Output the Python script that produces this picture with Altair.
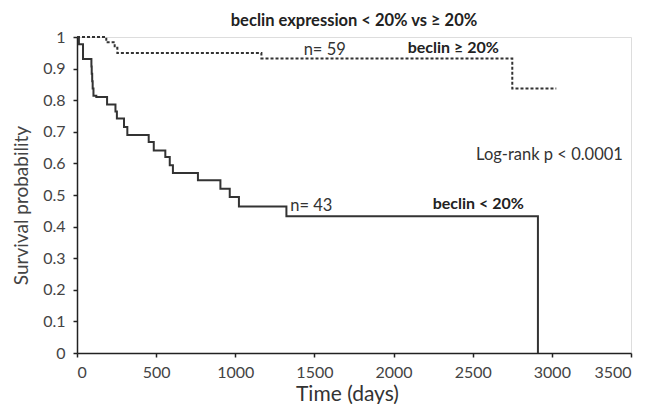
import altair as alt
import pandas as pd

# Lower curve: beclin < 20% (n=43)
low_time = [0, 12, 38, 91, 93, 96, 99, 104, 122, 190, 243, 252, 297, 318, 453, 485, 558, 586, 606, 764, 906, 965, 1023, 1323, 2912]
low_surv = [1.0, 0.977, 0.930, 0.907, 0.884, 0.860, 0.837, 0.814, 0.810, 0.786, 0.764, 0.742, 0.715, 0.690, 0.668, 0.641, 0.620, 0.594, 0.570, 0.547, 0.520, 0.494, 0.464, 0.433, 0.0]

# Upper curve: beclin >= 20% (n=59)
high_time = [0, 185, 238, 255, 1165, 2750, 3028]
high_surv = [1.0, 0.983, 0.966, 0.949, 0.932, 0.837, 0.837]

x_ticks = [0, 500, 1000, 1500, 2000, 2500, 3000, 3500]
y_ticks = [0, 0.1, 0.2, 0.3, 0.4, 0.5, 0.6, 0.7, 0.8, 0.9, 1]

note_text = ["n= 59", "n= 43", "Log-rank p < 0.0001"]
note_x = [1565, 1480, 2985]
note_y = [0.958, 0.465, 0.626]

bold_text = ["beclin \u2265 20%", "beclin < 20%"]
bold_x = [2377, 2535]
bold_y = [0.964, 0.472]

FONT = "Lato"

low_df = pd.DataFrame({"time": low_time, "surv": low_surv})
high_df = pd.DataFrame({"time": high_time, "surv": high_surv})
note_df = pd.DataFrame({"label": note_text, "time": note_x, "surv": note_y})
bold_df = pd.DataFrame({"label": bold_text, "time": bold_x, "surv": bold_y})

xscale = alt.Scale(domain=[0, 3500], nice=False, zero=False)
yscale = alt.Scale(domain=[0, 1], nice=False, zero=False)

xaxis = alt.Axis(values=x_ticks, title="Time  (days)", grid=False, format="d",
                 domainColor="#222", domainWidth=1.5, tickColor="#222", tickWidth=1.5,
                 tickSize=4, labelPadding=7, labelFontSize=16, labelColor="#444",
                 titleFontSize=21, titleFontWeight="normal", titleColor="#333",
                 titleX=270, titleY=51, titleBaseline="bottom",
                 labelFont=FONT, titleFont=FONT)
yaxis = alt.Axis(values=y_ticks, title="Survival probability", grid=False, format="~g",
                 domainColor="#222", domainWidth=1.5, tickColor="#222", tickWidth=1.5,
                 tickSize=4, labelPadding=8, labelFontSize=16, labelColor="#444",
                 titleFontSize=19, titleFontWeight="normal", titleColor="#444",
                 titleX=-46, titleY=168, labelFont=FONT, titleFont=FONT)

X = alt.X("time:Q", scale=xscale, axis=xaxis)
Y = alt.Y("surv:Q", scale=yscale, axis=yaxis)

low = alt.Chart(low_df).mark_line(interpolate="step-after", color="#333", strokeWidth=2).encode(
    x=X, y=Y)
high = alt.Chart(high_df).mark_line(interpolate="step-after", color="#333", strokeWidth=2,
                                    strokeDash=[3, 2]).encode(x=X, y=Y)
notes = alt.Chart(note_df).mark_text(font=FONT, fontSize=16.5, color="#333", baseline="middle",
                                     align="center").encode(x=X, y=Y, text="label:N")
bolds = alt.Chart(bold_df).mark_text(font=FONT, fontSize=16, fontWeight="bold", color="#222",
                                     baseline="middle", align="center").encode(
    x=X, y=Y, text="label:N")

chart = alt.layer(low, high, notes, bolds).properties(
    width=554, height=316,
    title=alt.TitleParams("beclin expression < 20% vs  \u2265 20%", font=FONT, fontSize=16.5,
                          fontWeight="bold", color="#222", anchor="middle", offset=0),
    autosize=alt.AutoSizeParams(type="none"),
    padding={"left": 69, "top": 29, "right": 25, "bottom": 51},
).configure_view(stroke="#999", strokeWidth=1).configure_axis(
    labelOverlap=False, labelBound=False, labelFlush=False
).configure(background="white")

chart.save("out.html", embed_options={"renderer": "svg", "actions": False})
